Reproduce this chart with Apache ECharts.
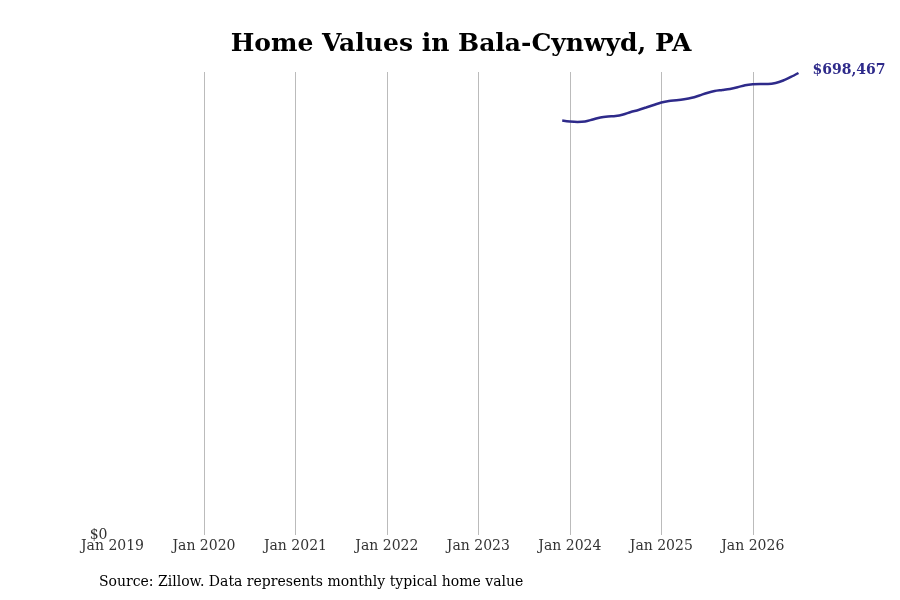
<!DOCTYPE html>
<html>
<head>
<meta charset="utf-8">
<script src="https://cdn.jsdelivr.net/npm/echarts@6/dist/echarts.min.js"></script>
<style>html,body{margin:0;padding:0;background:#fff}#c{width:900px;height:600px}</style>
</head>
<body>
<div id="c"></div>
<script>
const months = ['2023-12','2024-01','2024-02','2024-03','2024-04','2024-05','2024-06','2024-07','2024-08','2024-09','2024-10','2024-11','2024-12',
  '2025-01','2025-02','2025-03','2025-04','2025-05','2025-06','2025-07','2025-08','2025-09','2025-10','2025-11','2025-12',
  '2026-01','2026-02','2026-03','2026-04','2026-05','2026-06','2026-07'];
const values = [626700,625200,624500,625200,628200,631300,632800,633500,635800,639600,642600,646400,650200,
  653900,656200,657300,658800,661000,664500,668300,671300,672800,674400,676900,680000,
  681500,681900,681900,683400,687200,692500,698467];
const tickYears = [2019,2020,2021,2022,2023,2024,2025,2026];
const startYear = 2019;
const titleText = 'Home Values in Bala-Cynwyd, PA';
const sourceText = 'Source: Zillow. Data represents monthly typical home value';

function monthIndex(s){const [y,m]=s.split('-').map(Number);return (y-startYear)*12+(m-1);}
const seriesData = months.map((m,i)=>[monthIndex(m), values[i]]);
const font = 'DejaVu Serif';
const color = '#2e2a8a';

const chart = echarts.init(document.getElementById('c'));
chart.setOption({
  animation:false,
  textStyle:{fontFamily:font},
  title:{text:titleText,left:456,top:27,textAlign:'center',
    textStyle:{fontFamily:font,fontWeight:'bold',fontSize:25,color:'#000'}},
  graphic:[{type:'text',left:99,top:575,style:{text:sourceText,font:'14px "DejaVu Serif"',fill:'#000'}}],
  grid:{left:112.5,right:101.5,top:72,bottom:65,containLabel:false},
  xAxis:{type:'value',min:0,max:monthIndex('2026-07'),interval:12,
    axisLine:{show:false},axisTick:{show:false},
    axisLabel:{fontFamily:font,fontSize:14,color:'#333',margin:4,showMaxLabel:false,
      formatter:v=>{const y=startYear+v/12;return tickYears.includes(y)?'Jan '+y:'';}},
    splitLine:{show:true,showMinLine:false,showMaxLine:false,lineStyle:{color:'#bbbbbb',width:1}}},
  yAxis:{type:'value',min:0,max:700000,interval:700000,
    axisLine:{show:false},axisTick:{show:false},splitLine:{show:false},
    axisLabel:{fontFamily:font,fontSize:14,color:'#333',margin:5,verticalAlign:'middle',
      formatter:v=>v===0?'$0':''}},
  series:[{type:'line',data:seriesData,smooth:0.3,showSymbol:false,
    lineStyle:{color:color,width:2.5},itemStyle:{color:color},
    endLabel:{show:true,distance:14,offset:[0,-3],fontFamily:font,fontWeight:'bold',fontSize:14,color:color,
      formatter:p=>'$'+p.value[1].toLocaleString('en-US')}}]
});
</script>
</body>
</html>
